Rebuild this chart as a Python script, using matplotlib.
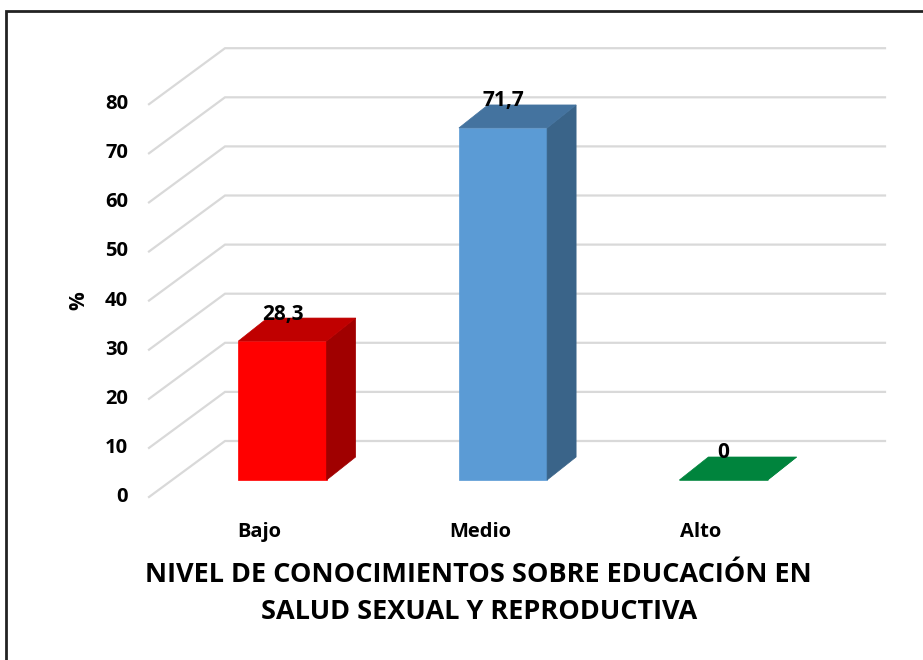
import matplotlib.pyplot as plt
from matplotlib.patches import Polygon, Rectangle

plt.rcParams['font.family'] = ['Open Sans', 'DejaVu Sans']

# datos
categorias = ['Bajo', 'Medio', 'Alto']
porcentajes = [28.3, 71.7, 0]
etiquetas = ['28,3', '71,7', '0']
ticks_y = [0, 10, 20, 30, 40, 50, 60, 70, 80]
titulo = ['NIVEL DE CONOCIMIENTOS SOBRE EDUCACIÓN EN', 'SALUD SEXUAL Y REPRODUCTIVA']

# colores (frente, techo, lado)
col_frente = ['#FF0000', '#5B9BD5', '#00843D']
col_techo = ['#C00000', '#44739F', '#00843D']
col_lado = ['#A00000', '#3A6489', '#00843D']

# escala "pseudo 3D" : pixeles -> unidades de datos
PX_X = 1 / 220.5   # unidad de categoria por pixel
PX_Y = 1 / 4.91    # unidad de % por pixel
ancho = 0.2                          # media anchura de barra
prof = (29 * PX_X, 23 * PX_Y)        # profundidad de la barra
frente = (-23 * PX_X, -17 * PX_Y)    # borde delantero del suelo
fondo = (53 * PX_X, 39 * PX_Y)       # pared del fondo
pared_x1 = 2.7324                    # fin de las lineas de fondo
x_ini = -0.6054                      # borde izquierdo frontal

fig = plt.figure(figsize=(9.23, 6.6), dpi=100)
ax = fig.add_axes([0, 0, 1, 1])
ax.set_xlim(-282.5 * PX_X, (923 - 282.5) * PX_X)
ax.set_ylim(-180 * PX_Y, 480 * PX_Y)
ax.axis('off')

# lineas de cuadricula (pared + suelo lateral)
for v in ticks_y:
    xa, ya = x_ini, v + frente[1]
    xb, yb = x_ini + fondo[0] - frente[0], v + fondo[1]
    ax.plot([xa, xb, pared_x1], [ya, yb, yb], color='#D9D9D9', lw=1.6,
            solid_joinstyle='miter', zorder=1)
    ax.text(xa - 21 * PX_X, ya, str(v), ha='right', va='center',
            fontsize=14.5, fontweight='bold', color='black')

ax.text((79 - 282.5) * PX_X, (480 - 301) * PX_Y, '%', rotation=90,
        ha='center', va='center', fontsize=15, fontweight='bold')

# barras
for i, v in enumerate(porcentajes):
    x0, x1 = i - ancho, i + ancho
    dx, dy = prof
    cara = Polygon([(x0, 0), (x1, 0), (x1, v), (x0, v)], closed=True,
                   fc=col_frente[i], ec=col_frente[i], lw=0.5, zorder=3)
    lado = Polygon([(x1, 0), (x1 + dx, dy), (x1 + dx, v + dy), (x1, v)],
                   closed=True, fc=col_lado[i], ec=col_lado[i], lw=0.5, zorder=3)
    techo = Polygon([(x0, v), (x1, v), (x1 + dx, v + dy), (x0 + dx, v + dy)],
                    closed=True, fc=col_techo[i], ec=col_techo[i], lw=0.5, zorder=4)
    for p in (cara, lado, techo):
        ax.add_patch(p)
    ax.text(i, v + dy + 4 * PX_Y, etiquetas[i], ha='center', va='center',
            fontsize=15, fontweight='bold', zorder=5)
    ax.text(i + frente[0], -57 * PX_Y, categorias[i], ha='center',
            va='baseline', fontsize=14.5, fontweight='bold')

# titulo del eje
fig.text(478 / 923, 1 - 582 / 660, titulo[0], ha='center', va='baseline',
         fontsize=19.5, fontweight='bold')
fig.text(479 / 923, 1 - 619 / 660, titulo[1], ha='center', va='baseline',
         fontsize=19.5, fontweight='bold')

# marco
fig.patches.append(Rectangle((6 / 923, -0.05), 1.1, 1 - 11 / 660 + 0.05,
                             transform=fig.transFigure, fill=False,
                             ec='#222222', lw=2))

fig.savefig('out.png', dpi=100)
